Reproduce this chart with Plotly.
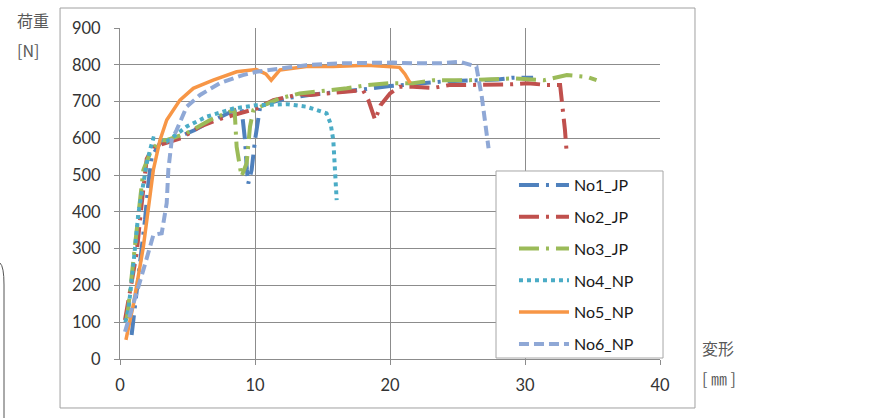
import plotly.graph_objects as go

# ---- data ----
series_names = ["No1_JP", "No2_JP", "No3_JP", "No4_NP", "No5_NP", "No6_NP"]

no1_x = [0.86, 1.1, 1.48, 1.85, 2.1, 2.35, 2.96, 3.5, 4.44, 5.5, 6.5, 7.5, 8.4, 9.0, 9.26, 9.4, 9.5,
         9.75, 10.0, 10.4, 11.5, 12.5, 14, 16, 18, 20, 22, 24, 26.7, 28, 29.1, 30.6]
no1_y = [65, 139, 242, 378, 477, 550, 587, 595, 605, 622, 642, 660, 675, 683, 595, 514, 477,
         514, 595, 690, 700, 710, 718, 725, 733, 742, 748, 755, 758, 760, 765, 765]

no2_x = [0.37, 0.8, 1.23, 1.6, 1.98, 2.47, 3.46, 4.5, 5.93, 7.16, 8.4, 10.1, 11.36, 13.3, 14.1, 15.5,
         17, 17.9, 18.0, 18.4, 18.9, 19.3, 20.0, 20.7, 21.7, 23.2, 24.4, 25.7, 27.6, 29, 30.2, 31.6,
         32.6, 32.7, 32.8, 32.96, 33.1]
no2_y = [106, 200, 287, 420, 544, 577, 587, 600, 632, 650, 663, 681, 704, 720, 718, 722,
         728, 731, 731, 704, 650, 690, 722, 740, 740, 737, 745, 745, 745, 747, 750, 745,
         745, 713, 663, 623, 555]

no3_x = [0.5, 0.62, 1.1, 1.73, 2.22, 2.96, 3.46, 4.94, 6.67, 8.4, 8.5, 8.64, 9.0, 9.38, 9.63, 9.88,
         10.4, 11.85, 13.3, 15.8, 16.8, 18.3, 20, 21.7, 23.2, 25.9, 27.9, 29.1, 31.4, 33.1, 34.6, 35.3]
no3_y = [110, 142, 305, 514, 559, 595, 595, 614, 650, 677, 670, 577, 496, 532, 632, 677,
         686, 709, 722, 731, 736, 745, 750, 750, 758, 758, 760, 763, 758, 772, 767, 758]

no4_x = [0.4, 0.62, 1.0, 1.36, 1.73, 1.98, 2.22, 2.47, 3.46, 4.94, 6.42, 8.4, 10.1, 12.35, 13.8,
         15.3, 15.6, 15.8, 16.05]
no4_y = [100, 133, 260, 396, 477, 532, 568, 600, 591, 632, 659, 681, 690, 693, 686,
         668, 640, 595, 432]

no5_x = [0.44, 1.0, 1.73, 2.47, 2.96, 3.46, 4.44, 5.43, 6.9, 8.64, 10.1, 10.8, 11.2, 11.85, 13.8,
         15.8, 18.3, 20, 20.7, 21.1, 21.5]
no5_y = [52, 150, 305, 514, 595, 650, 704, 736, 758, 781, 787, 775, 758, 786, 795,
         795, 799, 795, 793, 775, 750]

no6_x = [0.37, 1.0, 1.73, 2.47, 3.09, 3.46, 3.58, 3.83, 4.2, 4.94, 5.93, 7.4, 9.1, 10.1, 11.85,
         13.8, 16.3, 20.2, 21.7, 23.7, 25.2, 26.4, 26.8, 27.3]
no6_y = [74, 150, 242, 337, 342, 424, 514, 595, 623, 686, 718, 750, 772, 781, 790,
         799, 804, 806, 804, 804, 808, 795, 713, 573]

x_ticks = [0, 10, 20, 30, 40]
y_ticks = [0, 100, 200, 300, 400, 500, 600, 700, 800, 900]

# ---- styles ----
colors = ["#4F81BD", "#C0504D", "#9BBB59", "#4BACC6", "#F79646", "#8FA8D6"]
dashes = ["20px,7px,3px,7px", "20px,7px,3px,7px", "20px,7px,3px,7px",
          "4px,4px", "solid", "10px,5px"]
widths = [4, 4, 4, 4, 3.5, 4]

xs = [no1_x, no2_x, no3_x, no4_x, no5_x, no6_x]
ys = [no1_y, no2_y, no3_y, no4_y, no5_y, no6_y]

fig = go.Figure()
for i, name in enumerate(series_names):
    fig.add_trace(go.Scatter(
        x=xs[i], y=ys[i], name=name, mode="lines",
        legendgroup=name,
        line=dict(color=colors[i], width=widths[i], dash=dashes[i]),
    ))

grid_col = "#8C8C8C"
tick_font = dict(family="Lato", size=16.5, color="#333333")
jp_font = dict(family="Noto Sans CJK JP", size=16, color="#595959")

fig.update_layout(
    width=895, height=418,
    margin=dict(l=120, r=235, t=28, b=59, autoexpand=False),
    paper_bgcolor="white", plot_bgcolor="white",
    showlegend=True,
    legend=dict(
        x=0.7296, y=0.577, xanchor="left", yanchor="top",
        bgcolor="rgba(0,0,0,0)", borderwidth=0,
        font=dict(family="Lato", size=16, color="#1A1A1A"),
        tracegroupgap=8, traceorder="grouped", itemwidth=50,
    ),
    xaxis=dict(
        range=[0, 40], tickvals=x_ticks, showgrid=True, gridcolor=grid_col, gridwidth=1,
        showline=True, linecolor=grid_col, linewidth=1, ticks="outside", ticklen=5,
        tickcolor=grid_col, tickfont=tick_font, zeroline=False, ticklabelstandoff=6,
        automargin=False,
    ),
    yaxis=dict(
        range=[0, 900], tickvals=y_ticks, showgrid=True, gridcolor=grid_col, gridwidth=1,
        showline=True, linecolor=grid_col, linewidth=1, ticks="outside", ticklen=5,
        tickcolor=grid_col, tickfont=tick_font, zeroline=False, ticklabelstandoff=10,
        automargin=False,
    ),
    shapes=[
        dict(type="rect", xref="paper", yref="paper",
             x0=-0.111, x1=1.0648, y0=-0.148, y1=1.0604,
             line=dict(color="#A0A0A0", width=1), fillcolor="rgba(0,0,0,0)", layer="below"),
        dict(type="path", xref="paper", yref="paper",
             path="M -0.2222,0.29 Q -0.2148,0.28 -0.2148,0.2236 L -0.2148,-0.2",
             line=dict(color="#555555", width=1)),
        # legend frame
        dict(type="rect", xref="paper", yref="paper",
             x0=0.6963, x1=1.0056, y0=0.003, y1=0.568, layer="above",
             line=dict(color="#A6A6A6", width=1), fillcolor="white"),
    ],
    annotations=[
        dict(text="荷重", xref="paper", yref="paper", x=-0.1944, y=1.024,
             xanchor="left", yanchor="middle", showarrow=False, font=jp_font),
        dict(text="[N]", xref="paper", yref="paper", x=-0.1944, y=0.9335,
             xanchor="left", yanchor="middle", showarrow=False, font=jp_font),
        dict(text="変形", xref="paper", yref="paper", x=1.074, y=0.033,
             xanchor="left", yanchor="middle", showarrow=False, font=jp_font),
        dict(text="[ ㎜ ]", xref="paper", yref="paper", x=1.074, y=-0.057,
             xanchor="left", yanchor="middle", showarrow=False, font=jp_font),
    ],
)

fig.write_html("out.html", config={"displayModeBar": False},
               post_script="document.body.style.margin='0';")
